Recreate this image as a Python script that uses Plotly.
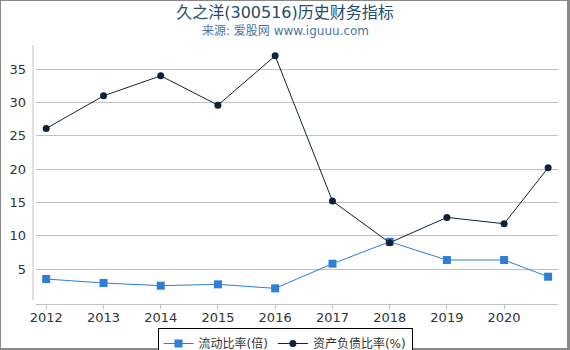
import plotly.graph_objects as go

dates = ["2012-01-01", "2013-01-01", "2014-01-01", "2015-01-01", "2016-01-01",
         "2017-01-01", "2018-01-01", "2019-01-01", "2020-01-01", "2020-10-08"]
current_ratio = [3.5, 2.9, 2.5, 2.7, 2.1, 5.8, 9.1, 6.35, 6.35, 3.85]
debt_ratio = [26.1, 31.0, 34.0, 29.6, 37.0, 15.2, 8.95, 12.75, 11.8, 20.2]
tick_years = ["2012-01-01", "2013-01-01", "2014-01-01", "2015-01-01", "2016-01-01",
              "2017-01-01", "2018-01-01", "2019-01-01", "2020-01-01"]
tick_text = ["2012", "2013", "2014", "2015", "2016", "2017", "2018", "2019", "2020"]

W, H = 570, 350
L, R, T, B = 36, 12, 45, 46
PW, PH = W - L - R, H - T - B

def px_x(p):
    return (p - L) / PW

def px_y(p):
    return (H - B - p) / PH

FONT = "DejaVu Sans, Noto Sans CJK SC, sans-serif"

fig = go.Figure()
fig.add_trace(go.Scatter(
    x=dates, y=current_ratio, name="流动比率(倍)", mode="lines+markers",
    line=dict(color="#2f7ed8", width=1),
    marker=dict(symbol="square", size=8, color="#2f7ed8"),
))
fig.add_trace(go.Scatter(
    x=dates, y=debt_ratio, name="资产负债比率(%)", mode="lines+markers",
    line=dict(color="#0d233a", width=1),
    marker=dict(symbol="circle", size=7, color="#0d233a"),
))

shapes = [
    dict(type="line", xref="paper", yref="paper", x0=px_x(33), x1=px_x(33),
         y0=px_y(45), y1=px_y(300), line=dict(color="#c0c0c0", width=1)),
    dict(type="rect", xref="paper", yref="paper", x0=px_x(0), x1=px_x(1),
         y0=px_y(0), y1=px_y(350), fillcolor="#888888", line=dict(width=0)),
    dict(type="rect", xref="paper", yref="paper", x0=px_x(0), x1=px_x(570),
         y0=px_y(0), y1=px_y(1), fillcolor="#888888", line=dict(width=0)),
    dict(type="rect", xref="paper", yref="paper", x0=px_x(567), x1=px_x(570),
         y0=px_y(0), y1=px_y(350), fillcolor="#888888", line=dict(width=0)),
    dict(type="rect", xref="paper", yref="paper", x0=px_x(0), x1=px_x(570),
         y0=px_y(348), y1=px_y(350), fillcolor="#888888", line=dict(width=0)),
]

fig.update_layout(
    width=W, height=H,
    margin=dict(l=L, r=R, t=T, b=B, pad=0, autoexpand=False),
    paper_bgcolor="white", plot_bgcolor="white",
    font=dict(family=FONT, size=13, color="#333333"),
    title=dict(text="久之洋(300516)历史财务指标", x=285 / W, xref="container",
               xanchor="center", yref="container", y=1 - 12.5 / H, yanchor="middle",
               font=dict(size=16, color="#274b6d", family=FONT)),
    annotations=[dict(text="来源: 爱股网 www.iguuu.com", xref="paper", yref="paper",
                      x=px_x(285), y=px_y(31), xanchor="center", yanchor="middle",
                      showarrow=False, font=dict(size=12, color="#4d759e", family=FONT))],
    xaxis=dict(type="date", range=["2011-10-28", "2020-12-10"],
               tickvals=tick_years, ticktext=tick_text,
               showgrid=False, showline=True, linecolor="#c0c0c0", linewidth=1,
               ticks="outside", ticklen=4, tickcolor="#c0c0c0",
               ticklabelstandoff=-3,
               tickfont=dict(size=13, color="#333333"), zeroline=False),
    yaxis=dict(range=[-0.25, 38.63], tickvals=[5, 10, 15, 20, 25, 30, 35],
               showgrid=True, gridcolor="#c0c0c0", gridwidth=1,
               showline=False, ticks="", zeroline=False,
               ticklabelstandoff=9,
               tickfont=dict(size=13, color="#333333")),
    legend=dict(orientation="h", xref="container", yref="container",
                x=285 / W, xanchor="center", y=1 - 328 / H,
                yanchor="top", bordercolor="#000000", borderwidth=1,
                font=dict(size=12, color="#333333", family=FONT),
                itemwidth=30, tracegroupgap=0),
    shapes=shapes,
    showlegend=True,
)

fig.write_html("out.html")
